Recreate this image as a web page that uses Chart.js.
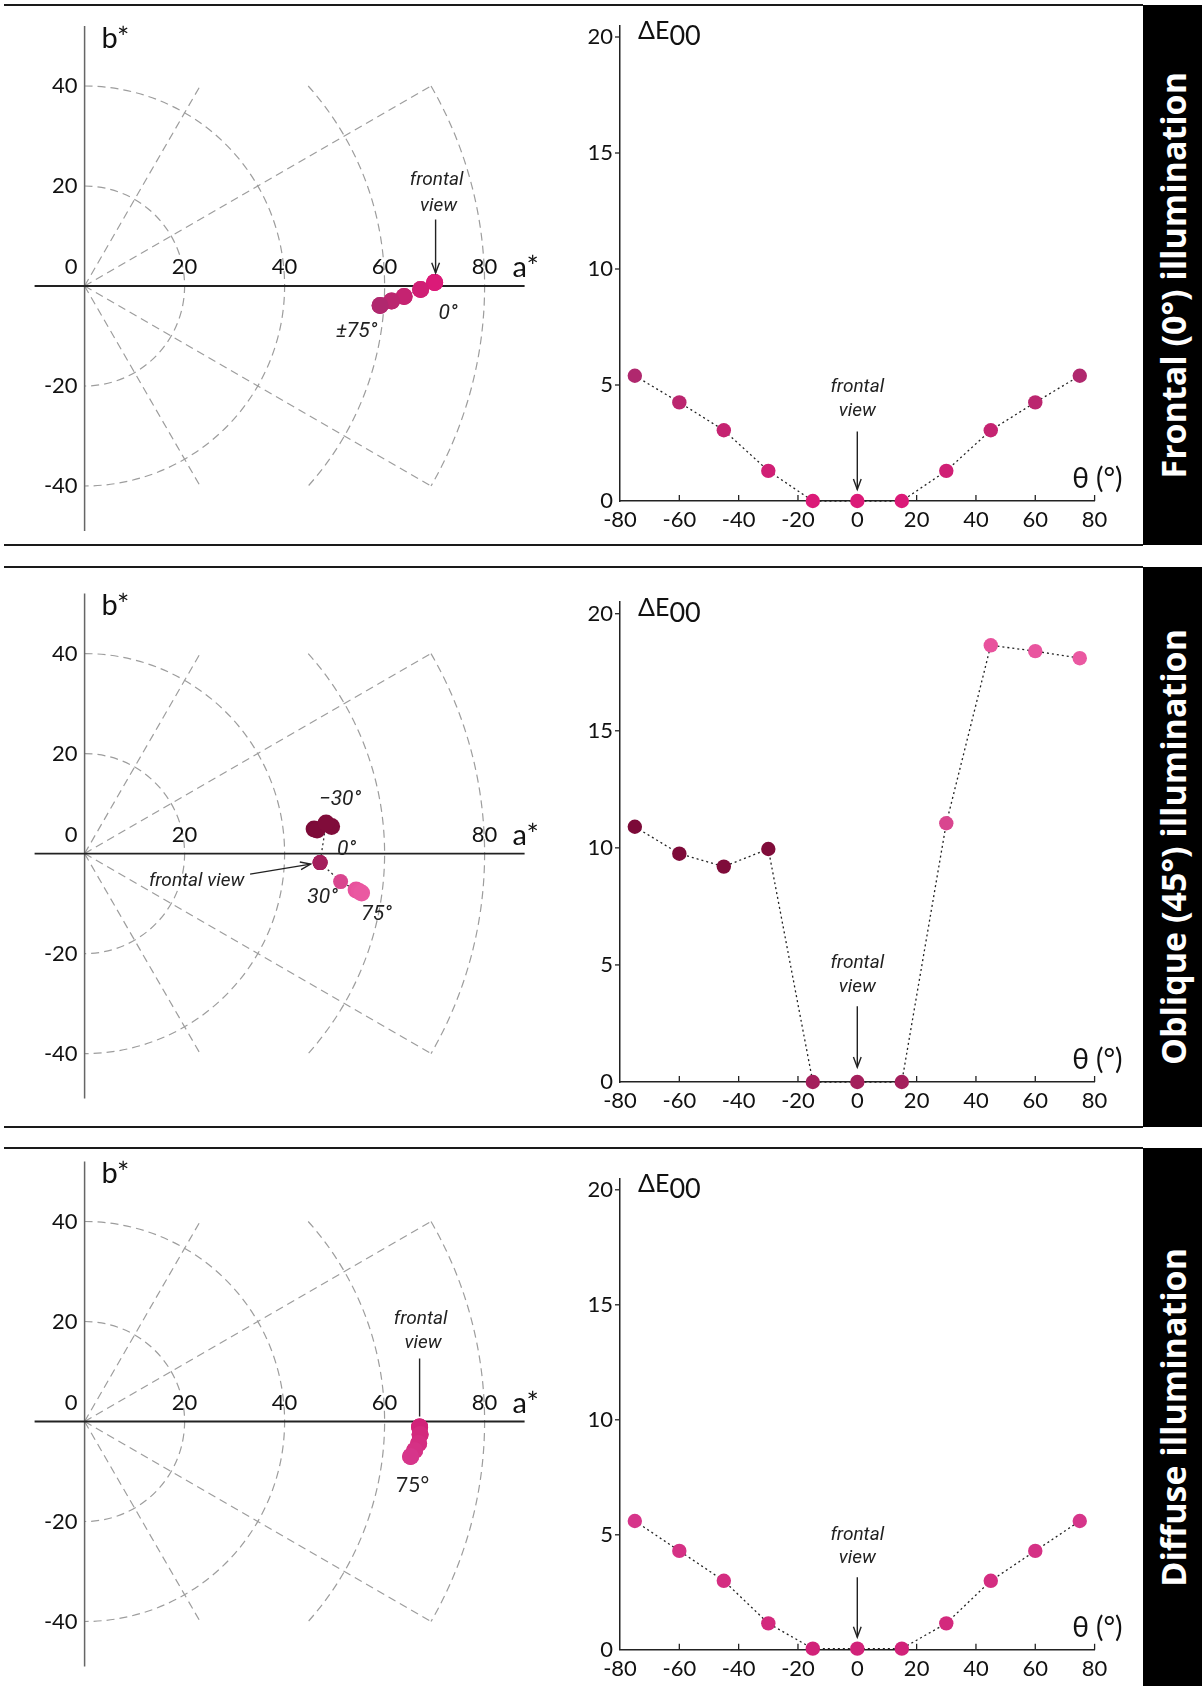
<!DOCTYPE html>
<html lang="en">
<head>
<meta charset="utf-8">
<title>a*b* and ΔE00 versus viewing angle</title>
<script src="https://cdn.jsdelivr.net/npm/chart.js@4.4.1/dist/chart.umd.min.js"></script>
<style>
	html, body { margin: 0; padding: 0; background: #fff; }
	.page { position: relative; width: 1202px; height: 1686px; overflow: hidden; }
	.rule { position: absolute; left: 4px; width: 1139px; height: 2px; background: #1a1a1a; }
	.page canvas { position: absolute; }
	.side { position: absolute; left: 1143px; width: 59px; background: #000; display: flex; align-items: center; justify-content: center; }
	.side span { color: #fff; font: 700 34px 'Open Sans', sans-serif; writing-mode: vertical-rl; transform: rotate(180deg); white-space: nowrap; }
</style>
</head>
<body>
<div class="page" id="page"></div>
<script>
// viewing angles
const THETA = [-75, -60, -45, -30, -15, 0, 15, 30, 45, 60, 75];

// frontal (0°) illumination
const FRONTAL_A = [59.1, 61.4, 63.9, 67.2, 70.0, 70.0, 70.0, 67.2, 63.9, 61.4, 59.1];
const FRONTAL_B = [-3.9, -3.0, -2.1, -0.7, 0.7, 0.7, 0.7, -0.7, -2.1, -3.0, -3.9];
const FRONTAL_DE = [5.4, 4.25, 3.05, 1.3, 0, 0, 0, 1.3, 3.05, 4.25, 5.4];
const FRONTAL_COLORS = ['#b0286e', '#bb266f', '#c52371', '#d01f75', '#db1a78', '#db1a78', '#db1a78', '#d01f75', '#c52371', '#bb266f', '#b0286e'];

// oblique (45°) illumination
const OBLIQUE_A = [45.9, 46.5, 49.4, 48.3, 47.1, 47.1, 47.1, 51.2, 54.3, 54.9, 55.4];
const OBLIQUE_B = [4.9, 4.7, 5.4, 6.1, -1.8, -1.8, -1.8, -5.6, -7.3, -7.6, -7.9];
const OBLIQUE_DE = [10.9, 9.75, 9.2, 9.95, 0, 0, 0, 11.05, 18.65, 18.4, 18.1];
const OBLIQUE_COLORS = ['#7c0a38', '#7e0b39', '#7f0c3a', '#800c3a', '#a41f5c', '#a41f5c', '#a41f5c', '#d9468f', '#e8529d', '#e9559f', '#ea58a1'];

// diffuse illumination
const DIFFUSE_A = [65.2, 66.0, 66.8, 67.1, 67.0, 67.0, 67.0, 67.1, 66.8, 66.0, 65.2];
const DIFFUSE_B = [-7.0, -5.8, -4.4, -2.6, -1.1, -1.1, -1.1, -2.6, -4.4, -5.8, -7.0];
const DIFFUSE_DE = [5.6, 4.3, 3.0, 1.15, 0.05, 0.05, 0.05, 1.15, 3.0, 4.3, 5.6];
const DIFFUSE_COLORS = ['#d6358a', '#d53185', '#d42d81', '#d3297d', '#d12279', '#d12279', '#d12279', '#d3297d', '#d42d81', '#d53185', '#d6358a'];

// tick labels
const B_TICKS = [-40, -20, 20, 40];
const A_TICKS_FRONTAL = [20, 40, 60, 80];
const A_TICKS_OBLIQUE = [20, 80];
const A_TICKS_DIFFUSE = [20, 40, 60, 80];
const DE_TICKS = [0, 5, 10, 15, 20];
const THETA_TICKS = [-80, -60, -40, -20, 0, 20, 40, 60, 80];

// polar grid of the a*b* plane
const RINGS = [20, 40, 60, 80];
const SPOKES = [60, 30, -30, -60];
const GRID_LIMIT = 40;

const NOTE_FONT = 'italic 19px Roboto';
const DEG_FONT = 'italic 21px Roboto';
const DEG_UPRIGHT = '21px Lato';

const PANELS = [
	{
		title: 'Frontal (0°) illumination',
		a: FRONTAL_A, b: FRONTAL_B, de: FRONTAL_DE, colors: FRONTAL_COLORS, aTicks: A_TICKS_FRONTAL,
		top: 5, height: 540, abPad: [21, 14], dePad: [20.4, 14], lastRule: true,
		abRadius: 8.5,
		abNotes: [
			{ text: 'frontal', x: 70.4, y: 21.2, font: NOTE_FONT },
			{ text: 'view', x: 70.8, y: 16.0, font: NOTE_FONT },
			{ text: '0°', x: 72.7, y: -5.6, font: DEG_FONT },
			{ text: '±75°', x: 54.4, y: -9.1, font: DEG_FONT },
			{ from: [70.2, 13.3], to: [70.2, 2.6], head: true }
		],
		deNotes: [4.9, 3.85, 3.0, 0.5]
	},
	{
		title: 'Oblique (45°) illumination',
		a: OBLIQUE_A, b: OBLIQUE_B, de: OBLIQUE_DE, colors: OBLIQUE_COLORS, aTicks: A_TICKS_OBLIQUE,
		top: 567, height: 560, abPad: [26.6, 28.4], dePad: [35, 15], lastRule: true,
		abRadius: [8.5, 8.5, 8.5, 8.5, 7.5, 7.5, 7.5, 7.5, 8.5, 8.5, 8.5],
		abNotes: [
			{ text: '\u221230°', x: 51.1, y: 10.7, font: DEG_FONT },
			{ text: '0°', x: 52.4, y: 0.7, font: DEG_FONT },
			{ text: '30°', x: 47.6, y: -8.9, font: DEG_FONT },
			{ text: '75°', x: 58.4, y: -12.3, font: DEG_FONT },
			{ text: 'frontal view', x: 22.4, y: -5.6, font: NOTE_FONT },
			{ from: [33.1, -4.1], to: [45.2, -2.1], head: true }
		],
		deNotes: [5.06, 4.03, 3.24, 0.63]
	},
	{
		title: 'Diffuse illumination',
		a: DIFFUSE_A, b: DIFFUSE_B, de: DIFFUSE_DE, colors: DIFFUSE_COLORS, aTicks: A_TICKS_DIFFUSE,
		top: 1148, height: 538, abPad: [13.5, 19.5], dePad: [30.3, 6.2], lastRule: false,
		abRadius: 8.5,
		abNotes: [
			{ text: 'frontal', x: 67.2, y: 20.4, font: NOTE_FONT },
			{ text: 'view', x: 67.7, y: 15.7, font: NOTE_FONT },
			{ text: '75°', x: 65.6, y: -12.8, font: DEG_UPRIGHT },
			{ from: [67.0, 12.6], to: [67.0, 1.0], head: false }
		],
		deNotes: [5.0, 3.96, 3.15, 0.55]
	}
];

//Стрелка или линия-выноска
function drawArrow(ctx, x1, y1, x2, y2, head) {
	ctx.save();
	ctx.strokeStyle = '#222';
	ctx.lineWidth = 1.4;
	ctx.beginPath();
	ctx.moveTo(x1, y1);
	ctx.lineTo(x2, y2);
	ctx.stroke();
	if (head) {
		let ang = Math.atan2(y2 - y1, x2 - x1);
		let len = 11;
		ctx.beginPath();
		ctx.moveTo(x2 - len * Math.cos(ang - 0.36), y2 - len * Math.sin(ang - 0.36));
		ctx.lineTo(x2, y2);
		ctx.lineTo(x2 - len * Math.cos(ang + 0.36), y2 - len * Math.sin(ang + 0.36));
		ctx.stroke();
	}
	ctx.restore();
}

function drawNotes(chart, notes) {
	let ctx = chart.ctx;
	let x = chart.scales.x;
	let y = chart.scales.y;

	notes.forEach((n) => {
		if (n.text) {
			ctx.save();
			ctx.font = n.font;
			ctx.fillStyle = '#222';
			ctx.textAlign = 'center';
			ctx.textBaseline = 'middle';
			ctx.fillText(n.text, x.getPixelForValue(n.x), y.getPixelForValue(n.y));
			ctx.restore();
		} else {
			drawArrow(ctx,
				x.getPixelForValue(n.from[0]), y.getPixelForValue(n.from[1]),
				x.getPixelForValue(n.to[0]), y.getPixelForValue(n.to[1]), n.head);
		}
	});
}

//Сетка, оси и подписи для плоскости a*b*
const abDecor = {
	id: 'abDecor',
	beforeDatasetsDraw(chart, args, opts) {
		let ctx = chart.ctx;
		let x = chart.scales.x;
		let y = chart.scales.y;
		let area = chart.chartArea;
		let ox = x.getPixelForValue(0);
		let oy = y.getPixelForValue(0);
		let unit = x.getPixelForValue(1) - ox;

		ctx.save();
		ctx.strokeStyle = '#9d9d9d';
		ctx.lineWidth = 1.2;
		ctx.setLineDash([8, 5]);

		RINGS.forEach((r) => {
			let a = Math.asin(Math.min(1, GRID_LIMIT / r));
			ctx.beginPath();
			ctx.arc(ox, oy, r * unit, -a, a);
			ctx.stroke();
		});

		SPOKES.forEach((deg) => {
			let t = deg * Math.PI / 180;
			let len = Math.min(RINGS[RINGS.length - 1], GRID_LIMIT / Math.abs(Math.sin(t)));
			ctx.beginPath();
			ctx.moveTo(ox, oy);
			ctx.lineTo(x.getPixelForValue(len * Math.cos(t)), y.getPixelForValue(len * Math.sin(t)));
			ctx.stroke();
		});

		ctx.setLineDash([]);

		// b* axis
		ctx.strokeStyle = '#666';
		ctx.lineWidth = 1.5;
		ctx.beginPath();
		ctx.moveTo(ox, area.top);
		ctx.lineTo(ox, area.bottom);
		ctx.stroke();

		// a* axis
		ctx.strokeStyle = '#222';
		ctx.lineWidth = 1.8;
		ctx.beginPath();
		ctx.moveTo(area.left, oy);
		ctx.lineTo(area.right, oy);
		ctx.stroke();

		ctx.fillStyle = '#111';
		ctx.font = '22px Lato';
		ctx.textBaseline = 'middle';

		ctx.textAlign = 'right';
		B_TICKS.forEach((v) => {
			ctx.fillText(String(v), ox - 7, y.getPixelForValue(v));
		});
		ctx.fillText('0', ox - 7, oy - 19);

		ctx.textAlign = 'center';
		opts.aTicks.forEach((v) => {
			ctx.fillText(String(v), x.getPixelForValue(v), oy - 19);
		});

		ctx.font = '29px Lato';
		ctx.textAlign = 'left';
		ctx.fillText('b*', x.getPixelForValue(3.4), y.getPixelForValue(49.5));
		ctx.fillText('a*', x.getPixelForValue(85.6), y.getPixelForValue(3.6));
		ctx.restore();
	},
	afterDatasetsDraw(chart, args, opts) {
		drawNotes(chart, opts.notes);
	}
};

//Засечки, подписи осей и выноска для графика ΔE00
const deDecor = {
	id: 'deDecor',
	beforeDatasetsDraw(chart) {
		let ctx = chart.ctx;
		let x = chart.scales.x;
		let y = chart.scales.y;
		let y0 = y.getPixelForValue(0);
		let x0 = x.getPixelForValue(-80);

		ctx.save();
		ctx.strokeStyle = '#222';
		ctx.lineWidth = 1.3;
		THETA_TICKS.slice(1).forEach((v) => {
			let px = x.getPixelForValue(v);
			ctx.beginPath();
			ctx.moveTo(px, y0);
			ctx.lineTo(px, y0 - 6);
			ctx.stroke();
		});
		DE_TICKS.slice(1).forEach((v) => {
			let py = y.getPixelForValue(v);
			ctx.beginPath();
			ctx.moveTo(x0, py);
			ctx.lineTo(x0 - 5, py);
			ctx.stroke();
		});
		ctx.restore();
	},
	afterDatasetsDraw(chart, args, opts) {
		let ctx = chart.ctx;
		let x = chart.scales.x;
		let y = chart.scales.y;
		let area = chart.chartArea;
		let y20 = y.getPixelForValue(20);
		let y0 = y.getPixelForValue(0);
		let n = opts.notes;

		ctx.save();
		ctx.fillStyle = '#111';
		ctx.font = '25px Lato';
		ctx.textAlign = 'left';
		ctx.textBaseline = 'alphabetic';
		ctx.fillText('ΔE', area.left + 18, y20 + 2);
		let w = ctx.measureText('ΔE').width;
		ctx.font = '27px Lato';
		ctx.fillText('00', area.left + 18 + w, y20 + 8);

		ctx.font = '28px Lato';
		ctx.textAlign = 'right';
		ctx.textBaseline = 'middle';
		ctx.fillText('θ (°)', area.right + 28, y0 - 22);

		ctx.font = NOTE_FONT;
		ctx.fillStyle = '#222';
		ctx.textAlign = 'center';
		let cx = x.getPixelForValue(0);
		ctx.fillText('frontal', cx, y.getPixelForValue(n[0]));
		ctx.fillText('view', cx, y.getPixelForValue(n[1]));
		ctx.restore();

		drawArrow(ctx, cx, y.getPixelForValue(n[2]), cx, y.getPixelForValue(n[3]), true);
	}
};

function makeCanvas(parent, left, top, width, height) {
	let canvas = document.createElement('canvas');
	canvas.width = width;
	canvas.height = height;
	canvas.style.left = left + 'px';
	canvas.style.top = top + 'px';
	canvas.style.width = width + 'px';
	canvas.style.height = height + 'px';
	parent.appendChild(canvas);
	return canvas;
}

window.addEventListener('load', () => {
	Chart.defaults.font.family = 'Lato';
	Chart.defaults.color = '#111';

	let page = document.getElementById('page');

	PANELS.forEach((p) => {
		let rules = [p.top - 1];
		if (p.lastRule) {
			rules.push(p.top + p.height - 1);
		}
		rules.forEach((ry) => {
			let rule = document.createElement('div');
			rule.className = 'rule';
			rule.style.top = ry + 'px';
			page.appendChild(rule);
		});

		let side = document.createElement('div');
		side.className = 'side';
		side.style.top = p.top + 'px';
		side.style.height = p.height + 'px';
		let label = document.createElement('span');
		label.textContent = p.title;
		side.appendChild(label);
		page.appendChild(side);

		// a*b* plane
		let abCanvas = makeCanvas(page, 0, p.top, 560, p.height);
		new Chart(abCanvas, {
			type: 'scatter',
			data: {
				datasets: [{
					data: THETA.map((t, i) => ({ x: p.a[i], y: p.b[i] })),
					showLine: true,
					borderColor: '#333',
					borderWidth: 1.3,
					borderDash: [2, 3],
					pointRadius: p.abRadius,
					pointHoverRadius: p.abRadius,
					pointBackgroundColor: p.colors,
					pointBorderColor: p.colors,
					pointBorderWidth: 0,
					clip: false
				}]
			},
			options: {
				responsive: false,
				animation: false,
				events: [],
				layout: { padding: { left: 34.6, right: 35.4, top: p.abPad[0], bottom: p.abPad[1] }, autoPadding: false },
				plugins: {
					legend: { display: false },
					tooltip: { enabled: false },
					abDecor: { aTicks: p.aTicks, notes: p.abNotes }
				},
				scales: {
					x: { type: 'linear', display: false, min: -10, max: 88 },
					y: { type: 'linear', display: false, min: -49, max: 52 }
				}
			},
			plugins: [abDecor]
		});

		// ΔE00 vs viewing angle
		let deCanvas = makeCanvas(page, 560, p.top, 583, p.height);
		new Chart(deCanvas, {
			type: 'scatter',
			data: {
				datasets: [{
					data: THETA.map((t, i) => ({ x: t, y: p.de[i] })),
					showLine: true,
					borderColor: '#222',
					borderWidth: 1.3,
					borderDash: [2, 3],
					pointRadius: 7.2,
					pointHoverRadius: 7.2,
					pointBackgroundColor: p.colors,
					pointBorderColor: p.colors,
					pointBorderWidth: 0,
					clip: false
				}]
			},
			options: {
				responsive: false,
				animation: false,
				events: [],
				layout: { padding: { left: 0, right: 48.4, top: p.dePad[0], bottom: p.dePad[1] }, autoPadding: false },
				plugins: {
					legend: { display: false },
					tooltip: { enabled: false },
					deDecor: { notes: p.deNotes }
				},
				scales: {
					x: {
						type: 'linear', min: -80, max: 80,
						afterBuildTicks: (s) => { s.ticks = THETA_TICKS.map((v) => ({ value: v })); },
						afterFit: (s) => { s.height = 30; },
						grid: { display: false, drawTicks: false },
						border: { display: true, color: '#222', width: 1.5 },
						ticks: { padding: 6, color: '#111', font: { size: 22 }, maxRotation: 0, autoSkip: false }
					},
					y: {
						type: 'linear', min: 0, max: 20.5,
						afterBuildTicks: (s) => { s.ticks = DE_TICKS.map((v) => ({ value: v })); },
						afterFit: (s) => { s.width = 60; },
						grid: { display: false, drawTicks: false },
						border: { display: true, color: '#222', width: 1.5 },
						ticks: { padding: 7, color: '#111', font: { size: 22 } }
					}
				}
			},
			plugins: [deDecor]
		});
	});
}, { once: true });
</script>
</body>
</html>
